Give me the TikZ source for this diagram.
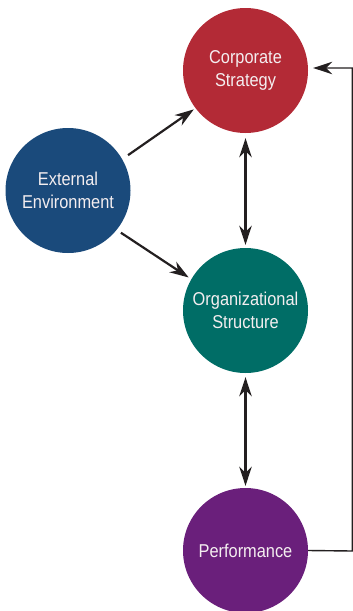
\documentclass[tikz,border=0pt]{standalone}
\usepackage{fontspec}
\usetikzlibrary{arrows.meta,calc}
\newfontfamily\labfont[FakeStretch=0.88]{Liberation Sans}
\definecolor{csred}{HTML}{B32A36}
\definecolor{extblue}{HTML}{1A4A7B}
\definecolor{osteal}{HTML}{006D66}
\definecolor{perfpurple}{HTML}{6A1F7B}
\definecolor{linegray}{HTML}{231F20}
\definecolor{txtwhite}{HTML}{F4EEF0}
\tikzset{
  tip/.tip={Stealth[length=19pt,width=12.5pt,inset=6pt]},
  bubble/.style={circle, minimum size=125pt, inner sep=0pt, draw=none,
    text=txtwhite, align=center, font=\labfont\fontsize{18.6}{23}\selectfont},
  arr/.style={line width=2.2pt, draw=linegray, -tip},
  darr/.style={line width=2.2pt, draw=linegray, tip-tip},
  fbline/.style={line width=1.4pt, draw=linegray, -tip}
}
\begin{document}
\begin{tikzpicture}[x=1pt,y=-1pt]
\useasboundingbox (0,0) rectangle (353,611);
\node[bubble, fill=csred] (cs) at (245.5,70.5) {Corporate\\Strategy};
\node[bubble, fill=extblue] (ext) at (68,190.5) {External\\Environment};
\node[bubble, fill=osteal] (os) at (245.5,310.5) {Organizational\\Structure};
\node[bubble, fill=perfpurple] (perf) at (245.5,550.5) {Performance};
\coordinate (fbcorner) at (352.3,551);
\draw[arr, shorten <=7pt, shorten >=2pt] (ext.30) -- (cs.217);
\draw[arr, shorten <=5pt, shorten >=3pt] (ext.-39) -- (os.150);
\draw[darr, shorten <=5pt, shorten >=3pt] (cs.south) -- (os.north);
\draw[darr, shorten <=4pt, shorten >=2pt] (os.south) -- (perf.north);
\draw[fbline, shorten >=5pt] (perf.east) -- (fbcorner) |- ([yshift=2.5pt]cs.east);
\end{tikzpicture}
\end{document}
